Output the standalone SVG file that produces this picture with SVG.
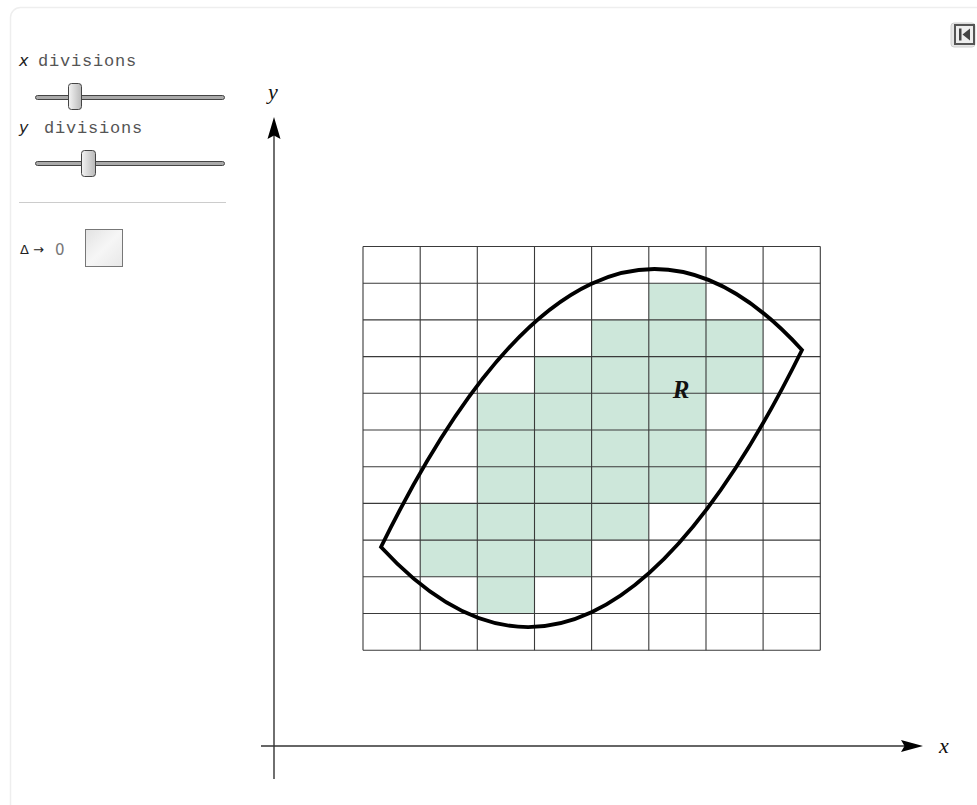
<svg xmlns="http://www.w3.org/2000/svg" width="977" height="805" viewBox="0 0 977 805">
<style>
.mono{font-family:"Liberation Mono","Courier New",monospace;font-size:17px;fill:#555;letter-spacing:0.8px}
.ital{font-family:"DejaVu Sans","Liberation Sans",sans-serif;font-style:italic;font-size:16px;fill:#222}
.grid line{stroke:#3a3a3a;stroke-width:1.1}
.cell{fill:#cde7da}
.axis{stroke:#333;stroke-width:1.4;fill:none}
.lbl{font-family:"Liberation Serif","Times New Roman",serif;font-style:italic;font-size:22px;fill:#111}
.track{fill:#aaa;stroke:#444;stroke-width:1}
.thumb{fill:url(#tg);stroke:#444;stroke-width:1}
</style>
<defs>
<linearGradient id="tg" x1="0" y1="0" x2="1" y2="0">
<stop offset="0" stop-color="#f4f4f4"/>
<stop offset="1" stop-color="#b8b8b8"/>
</linearGradient>
<linearGradient id="cb" x1="0" y1="0" x2="1" y2="1">
<stop offset="0" stop-color="#e2e2e2"/>
<stop offset="0.5" stop-color="#f6f6f6"/>
<stop offset="1" stop-color="#e8e8e8"/>
</linearGradient>
</defs>
<rect width="977" height="805" fill="#fff"/>
<rect x="10.5" y="7.5" width="990" height="820" rx="10" fill="none" stroke="#eeeeee" stroke-width="1.5"/>

<g id="controls">
<text x="19" y="66" class="ital">x</text>
<text x="38" y="66" class="mono">divisions</text>
<rect class="track" x="35.5" y="95.5" width="189" height="4" rx="2"/>
<rect class="thumb" x="68.5" y="83.5" width="13" height="26" rx="3"/>
<text x="19" y="133" class="ital">y</text>
<text x="44" y="133" class="mono">divisions</text>
<rect class="track" x="35.5" y="161.5" width="189" height="4" rx="2"/>
<rect class="thumb" x="81.5" y="150.5" width="14" height="26" rx="3"/>
<line x1="19" y1="202.5" x2="226" y2="202.5" stroke="#cccccc" stroke-width="1"/>
<text x="20" y="254" font-family="DejaVu Sans, sans-serif" font-size="13" fill="#222">Δ →</text>
<text x="55" y="254.5" font-family="DejaVu Sans, sans-serif" font-size="15" fill="#777">0</text>
<rect x="85.5" y="229.5" width="37" height="37" fill="url(#cb)" stroke="#777" stroke-width="1"/>
</g>

<g id="reset-icon">
<rect x="951" y="23" width="24" height="24" rx="3" fill="#e6e6e6" stroke="#cfcfcf"/>
<rect x="955" y="25" width="19" height="19" fill="#eeeeee" stroke="#555" stroke-width="2"/>
<rect x="959" y="28.5" width="2.5" height="12" fill="#444"/>
<polygon points="962.5,34.5 970,28.5 970,40.5" fill="#444"/>
</g>

<g id="shaded-cells">
<rect class="cell" x="648.8" y="283.2" width="57.2" height="36.7"/>
<rect class="cell" x="591.6" y="319.9" width="171.5" height="36.7"/>
<rect class="cell" x="534.5" y="356.6" width="228.6" height="36.7"/>
<rect class="cell" x="477.3" y="393.3" width="228.7" height="110.1"/>
<rect class="cell" x="420.2" y="503.4" width="228.6" height="36.7"/>
<rect class="cell" x="420.2" y="540.1" width="171.4" height="36.7"/>
<rect class="cell" x="477.3" y="576.8" width="57.2" height="36.7"/>
</g>

<g id="grid" class="grid">
<line x1="363" y1="246.5" x2="363" y2="650.2"/>
<line x1="420.2" y1="246.5" x2="420.2" y2="650.2"/>
<line x1="477.3" y1="246.5" x2="477.3" y2="650.2"/>
<line x1="534.5" y1="246.5" x2="534.5" y2="650.2"/>
<line x1="591.6" y1="246.5" x2="591.6" y2="650.2"/>
<line x1="648.8" y1="246.5" x2="648.8" y2="650.2"/>
<line x1="706" y1="246.5" x2="706" y2="650.2"/>
<line x1="763.1" y1="246.5" x2="763.1" y2="650.2"/>
<line x1="820.3" y1="246.5" x2="820.3" y2="650.2"/>
<line x1="363" y1="246.5" x2="820.3" y2="246.5"/>
<line x1="363" y1="283.2" x2="820.3" y2="283.2"/>
<line x1="363" y1="319.9" x2="820.3" y2="319.9"/>
<line x1="363" y1="356.6" x2="820.3" y2="356.6"/>
<line x1="363" y1="393.3" x2="820.3" y2="393.3"/>
<line x1="363" y1="430" x2="820.3" y2="430"/>
<line x1="363" y1="466.7" x2="820.3" y2="466.7"/>
<line x1="363" y1="503.4" x2="820.3" y2="503.4"/>
<line x1="363" y1="540.1" x2="820.3" y2="540.1"/>
<line x1="363" y1="576.8" x2="820.3" y2="576.8"/>
<line x1="363" y1="613.5" x2="820.3" y2="613.5"/>
<line x1="363" y1="650.2" x2="820.3" y2="650.2"/>
</g>

<g id="region-R">
<path d="M381,547 Q591.5,119 802,350 Q591.5,776 381,547 Z" fill="none" stroke="#000" stroke-width="3.8" stroke-linejoin="miter"/>
<text x="681" y="398" font-family="Liberation Serif, Times New Roman, serif" font-style="italic" font-weight="bold" font-size="25" text-anchor="middle" fill="#111">R</text>
</g>

<g id="connectors">
<line class="axis" x1="274" y1="779" x2="274" y2="134"/>
<polygon points="274,117 267.5,139 274,135.5 280.5,139" fill="#000"/>
<line class="axis" x1="261" y1="746" x2="905" y2="746"/>
<polygon points="923,746 901,740 904.5,746 901,752" fill="#000"/>
</g>

<g id="axis-labels">
<text x="273" y="99" class="lbl" text-anchor="middle">y</text>
<text x="944" y="753" class="lbl" text-anchor="middle">x</text>
</g>
</svg>
